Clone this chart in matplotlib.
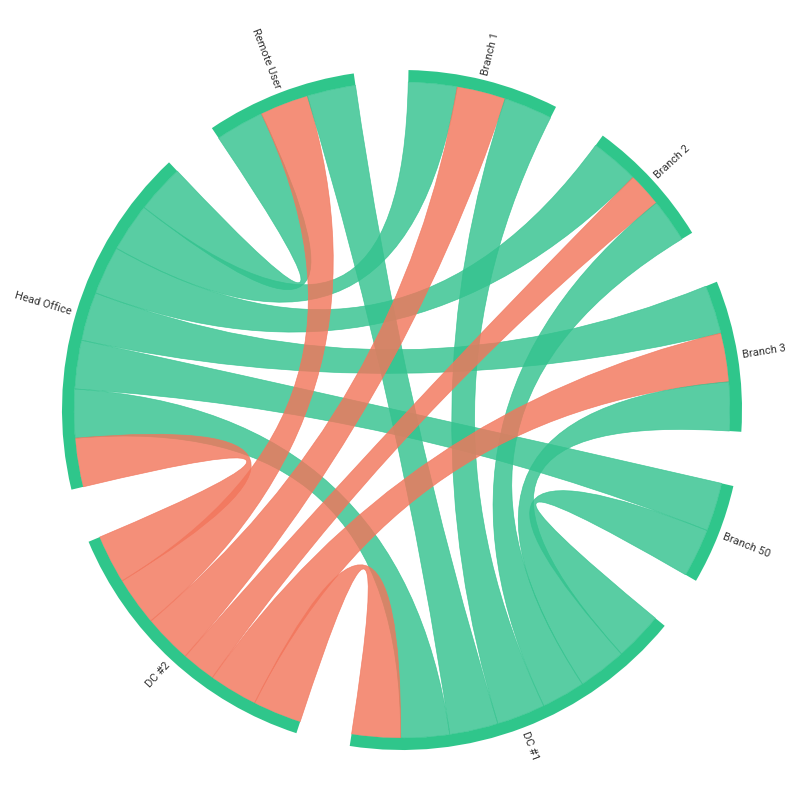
import numpy as np
import matplotlib.pyplot as plt
from matplotlib.path import Path
from matplotlib.patches import PathPatch, Wedge

# =========================
# Data
# =========================
NODES = ["Remote User", "Branch 1", "Branch 2", "Branch 3", "Branch 50", "DC #1", "DC #2", "Head Office"]
LINK_SOURCE = ["Head Office", "Head Office", "Head Office", "Head Office", "Head Office", "Head Office", "Head Office",
               "Remote User", "Remote User", "Branch 1", "Branch 1", "Branch 2", "Branch 2",
               "Branch 3", "Branch 3", "Branch 50", "DC #1"]
LINK_TARGET = ["Remote User", "Branch 1", "Branch 2", "Branch 3", "Branch 50", "DC #1", "DC #2",
               "DC #2", "DC #1", "DC #2", "DC #1", "DC #2", "DC #1",
               "DC #2", "DC #1", "DC #1", "DC #2"]
LINK_VALUE = [10, 10, 10, 10, 10, 10, 10,
              10, 10, 10, 10, 7, 9,
              10, 10, 10, 10]

GREEN = "#34c38f"
RED = "#f2765c"
CX, CY = 402, 410
R_OUT, R_IN = 340, 328
START = -34.0
SPAN = 286.0


def pt(r, a):
    t = np.radians(a)
    return CX + r * np.sin(t), CY - r * np.cos(t)


def main() -> None:
    n = len(NODES)
    idx = {nm: i for i, nm in enumerate(NODES)}
    # bands per node
    bands = {i: [] for i in range(n)}
    for k, (s, t, v) in enumerate(zip(LINK_SOURCE, LINK_TARGET, LINK_VALUE)):
        bands[idx[s]].append((idx[t], k, v))
        bands[idx[t]].append((idx[s], k, v))
    total = sum(LINK_VALUE) * 2
    scale = SPAN / total
    gap = (360 - SPAN) / n

    ends = {}
    node_span = {}
    a = START
    for i in range(n):
        a0 = a
        for other, k, v in sorted(bands[i], key=lambda b: -((b[0] - i) % n)):
            ends[(k, i)] = (a, a + v * scale)
            a += v * scale
        node_span[i] = (a0, a)
        a += gap

    fig = plt.figure(figsize=(8, 8), dpi=100)
    ax = fig.add_axes([0, 0, 1, 1])
    ax.set_xlim(0, 800)
    ax.set_ylim(800, 0)
    ax.set_aspect("equal")
    ax.axis("off")

    for k, (s, t) in enumerate(zip(LINK_SOURCE, LINK_TARGET)):
        i, j = idx[s], idx[t]
        a1, a2 = ends[(k, i)]
        b1, b2 = ends[(k, j)]
        verts, codes = [], []
        arc = np.linspace(a1, a2, 20)
        verts += [pt(R_IN, x) for x in arc]
        codes += [Path.MOVETO] + [Path.LINETO] * 19
        verts += [(CX, CY), pt(R_IN, b1)]
        codes += [Path.CURVE3] * 2
        arc = np.linspace(b1, b2, 20)
        verts += [pt(R_IN, x) for x in arc[1:]]
        codes += [Path.LINETO] * 19
        verts += [(CX, CY), pt(R_IN, a1)]
        codes += [Path.CURVE3] * 2
        color = RED if "DC #2" in (s, t) else GREEN
        ax.add_patch(PathPatch(Path(verts, codes), facecolor=color, edgecolor=color,
                               lw=0.5, alpha=0.82))

    # ring segments (angles mirrored because the y axis is inverted)
    for i, nm in enumerate(NODES):
        a0, a1 = node_span[i]
        ax.add_patch(Wedge((CX, CY), R_OUT, a0 - 90, a1 - 90, width=R_OUT - R_IN,
                           facecolor="#2fc68b", edgecolor="none"))

    for i, nm in enumerate(NODES):
        a0, a1 = node_span[i]
        mid = (a0 + a1) / 2
        x, y = pt(R_OUT + 5, mid)
        m = mid % 360
        if m < 180:
            rot, ha = 90 - m, "left"
        else:
            rot, ha = 270 - m, "right"
        ax.text(x, y, nm, rotation=rot, ha=ha, va="center", rotation_mode="anchor",
                fontsize=8, color="#333333", family="Roboto")

    fig.savefig("out.png", dpi=100)
    plt.close(fig)


if True:
    main()
